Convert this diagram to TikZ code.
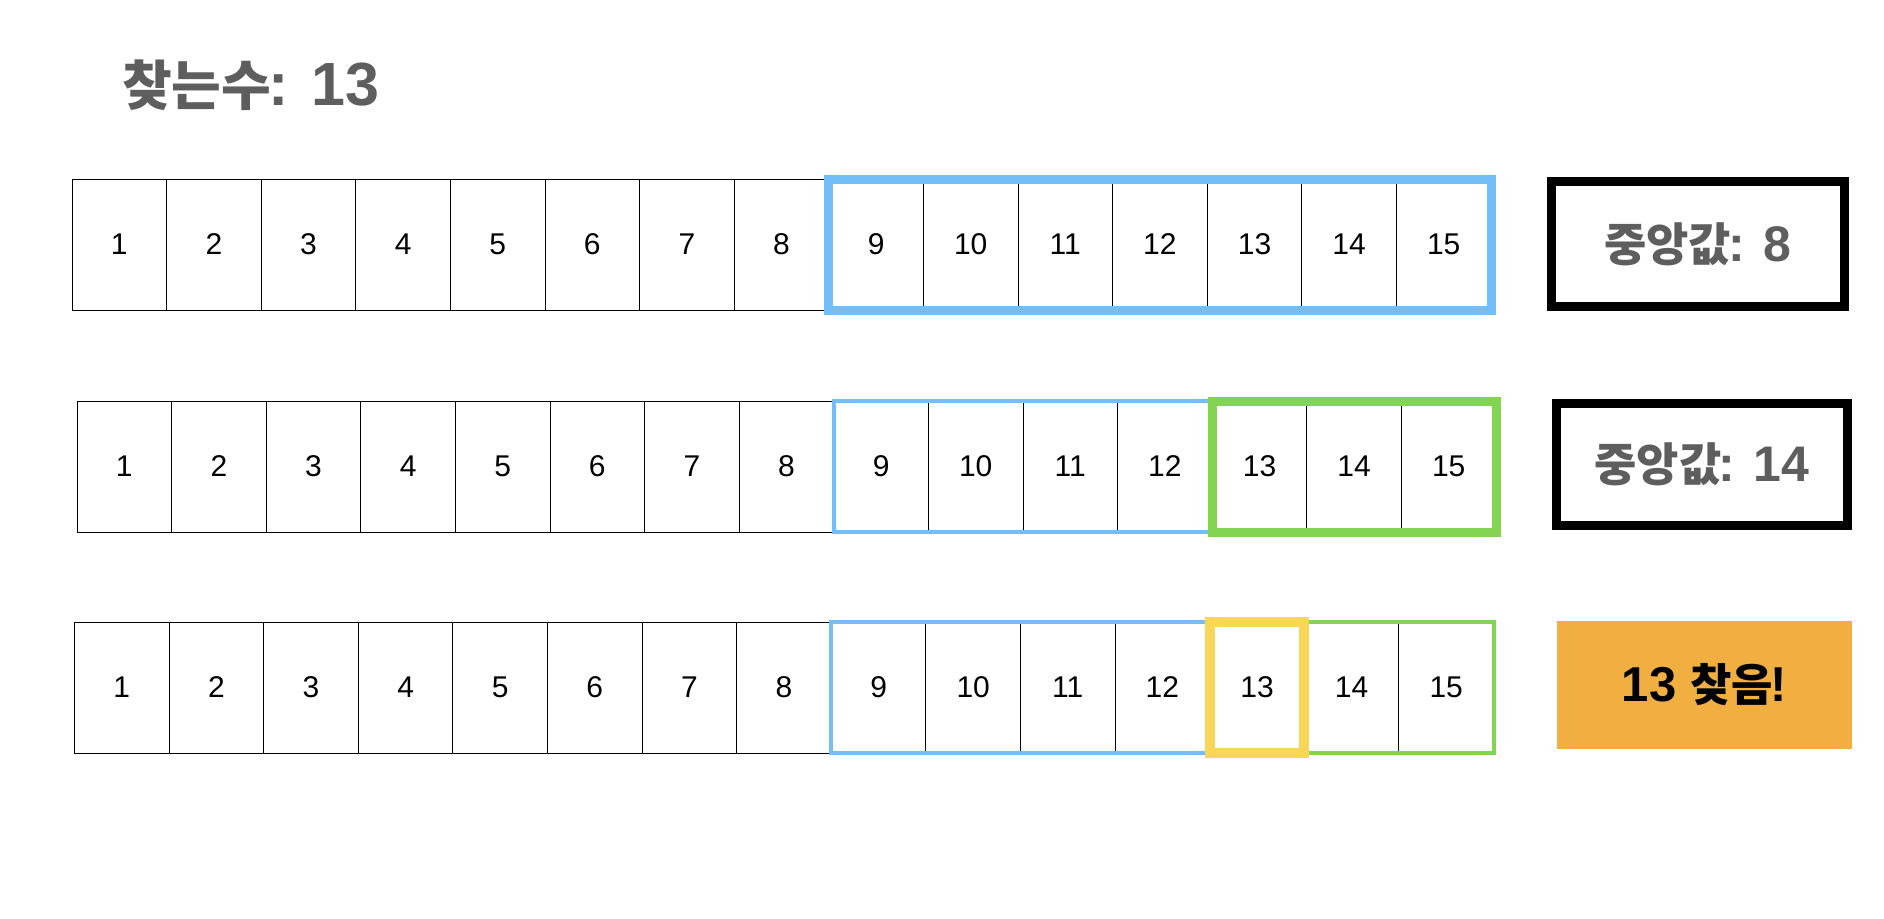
\documentclass[tikz,border=0pt]{standalone}
\usepackage{fontspec}
\setmainfont{Liberation Sans}
\newfontfamily\kr{Noto Sans CJK KR}
\definecolor{hlblue}{RGB}{116,190,248}
\definecolor{hlgreen}{RGB}{130,212,82}
\definecolor{hlyellow}{RGB}{248,214,88}
\definecolor{foundorange}{RGB}{240,175,64}
\definecolor{txtgray}{RGB}{94,94,94}
\tikzset{
  cell/.style={draw=black, line width=1pt, minimum width=94.6pt, minimum height=131pt,
    inner sep=0pt, outer sep=0pt, anchor=north west, font=\fontsize{30}{30}\selectfont},
  midbox/.style={draw=black, line width=9pt, inner sep=0pt, outer sep=0pt, text=txtgray},
  foundbox/.style={fill=foundorange, inner sep=0pt, outer sep=0pt, text=black},
  thickblue/.style={draw=hlblue, line width=9pt},
  thinblue/.style={draw=hlblue, line width=4pt},
  thickgreen/.style={draw=hlgreen, line width=9pt},
  thingreen/.style={draw=hlgreen, line width=4pt},
  thickyellow/.style={draw=hlyellow, line width=10pt},
}
\newcommand{\krtxt}[2]{{\kr\bfseries\fontsize{#1}{#1}\selectfont #2}}
\newcommand{\latn}[2]{{\bfseries\fontsize{#1}{#1}\selectfont #2}}
\begin{document}
\begin{tikzpicture}[x=1pt,y=-1pt]
\useasboundingbox (0,0) rectangle (1884,918);
\fill[white] (0,0) rectangle (1884,918);

% title
\node[anchor=base west, inner sep=0pt, text=txtgray] (title) at (122,105)
  {\krtxt{54}{찾는수}\kern-3pt\latn{61}{: 13}};

% row 1
\foreach \i in {1,...,15}
  \node[cell] (a\i) at ({72+(\i-1)*94.6},179) {\i};
% row 2
\foreach \i in {1,...,15}
  \node[cell] (b\i) at ({77+(\i-1)*94.6},401) {\i};
% row 3
\foreach \i in {1,...,15}
  \node[cell] (c\i) at ({74.5+(\i-1)*94.6},622) {\i};

% highlights row 1
\draw[thickblue] (a9.north west) rectangle (a15.south east);
% row 2
\draw[thinblue] (b9.north west) rectangle (b15.south east);
\draw[thickgreen] (b13.north west) rectangle (b15.south east);
% row 3
\draw[thinblue] (c9.north west) rectangle (c15.south east);
\draw[thingreen] (c13.north west) rectangle (c15.south east);
\draw[thickyellow] (c13.north west) rectangle (c13.south east);

% right boxes
\node[midbox, minimum width=293.5pt, minimum height=125.7pt] (m1) at (1697.75,243.85)
  {\krtxt{46}{중앙값}\kern-3pt\latn{50}{: 8}};
\node[midbox, minimum width=290.5pt, minimum height=122pt] (m2) at (1701.75,464.5)
  {\krtxt{46}{중앙값}\kern-3pt\latn{50}{: 14}};
\node[foundbox, minimum width=295pt, minimum height=128pt] (found) at (1704.5,685)
  {\latn{49}{13 }\krtxt{45}{찾음}\kern-2pt\latn{49}{!}};
\end{tikzpicture}
\end{document}
